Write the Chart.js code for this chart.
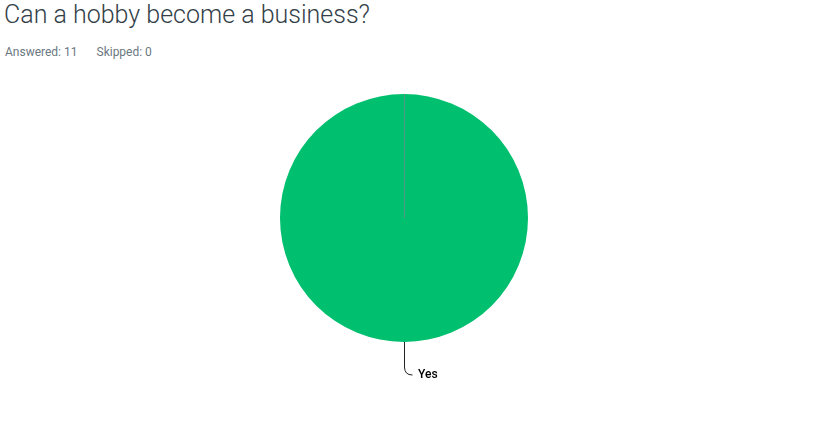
<!DOCTYPE html>
<html>
<head>
<meta charset="utf-8">
<script src="https://cdn.jsdelivr.net/npm/chart.js@4.4.1/dist/chart.umd.min.js"></script>
<style>
  html, body { margin: 0; padding: 0; background: #fff; }
  #wrap { position: relative; width: 823px; height: 425px; overflow: hidden; }
  #title { position: absolute; left: 4px; top: 0px; font-family: Roboto, "Open Sans", sans-serif; font-weight: 300; font-size: 25px; color: #333e48; white-space: nowrap; }
  #sub { position: absolute; left: 5px; top: 45px; font-family: Roboto, sans-serif; font-size: 12px; color: #6b787f; white-space: nowrap; }
  #sub span + span { margin-left: 19px; }
  canvas { position: absolute; left: 0; top: 0; }
</style>
</head>
<body>
<div id="wrap">
  <div id="title">Can a hobby become a business?</div>
  <div id="sub"><span>Answered: 11</span><span>Skipped: 0</span></div>
  <canvas id="c" width="823" height="425"></canvas>
</div>
<script>
const categories = ["Yes"];
const responses = [11];
const colors = ["#00BF6F"];

const pieLabels = {
  id: 'pieLabels',
  afterDatasetsDraw(chart) {
    const ctx = chart.ctx;
    const meta = chart.getDatasetMeta(0);
    meta.data.forEach((arc, i) => {
      const p = arc.getProps(['x', 'y', 'startAngle', 'endAngle', 'outerRadius'], true);
      ctx.save();
      // seam line from centre to slice start
      ctx.strokeStyle = '#4f9b86';
      ctx.lineWidth = 1;
      ctx.beginPath();
      ctx.moveTo(Math.round(p.x) + 0.5, p.y);
      ctx.lineTo(Math.round(p.x + p.outerRadius * Math.cos(p.startAngle)) + 0.5, p.y + p.outerRadius * Math.sin(p.startAngle));
      ctx.stroke();
      // connector
      const mid = (p.startAngle + p.endAngle) / 2;
      const sx = p.x + p.outerRadius * Math.cos(mid);
      const sy = p.y + p.outerRadius * Math.sin(mid);
      const x0 = Math.round(sx) + 0.5;
      ctx.strokeStyle = '#222';
      ctx.lineWidth = 1;
      ctx.beginPath();
      ctx.moveTo(x0, sy);
      ctx.lineTo(x0, sy + 25);
      ctx.quadraticCurveTo(x0, sy + 33, x0 + 8, sy + 33);
      ctx.stroke();
      ctx.fillStyle = '#000';
      ctx.font = '500 12px Roboto, Arial, sans-serif';
      ctx.textBaseline = 'middle';
      ctx.textAlign = 'left';
      ctx.fillText(chart.data.labels[i], x0 + 13.5, sy + 33);
      ctx.restore();
    });
  }
};

new Chart(document.getElementById('c'), {
  type: 'pie',
  data: {
    labels: categories,
    datasets: [{ data: responses, backgroundColor: colors, borderWidth: 0, hoverOffset: 0 }]
  },
  options: {
    responsive: false,
    animation: false,
    layout: { padding: { top: 94, bottom: 83, left: 0, right: 15 } },
    plugins: { legend: { display: false }, tooltip: { enabled: false } }
  },
  plugins: [pieLabels]
});
</script>
</body>
</html>
